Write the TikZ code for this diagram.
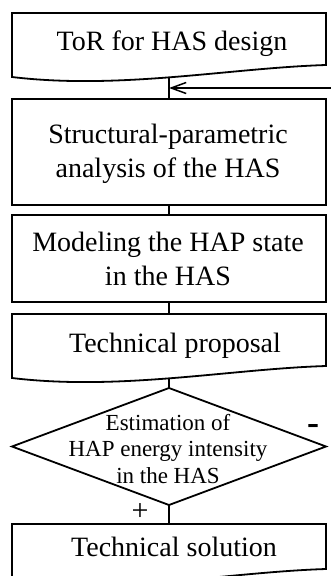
\documentclass[tikz,border=0pt]{standalone}
\usepackage{fontspec}
\setmainfont{Liberation Serif}
\usetikzlibrary{shapes.geometric,arrows.meta}
\begin{document}
\begin{tikzpicture}[x=1pt,y=-1pt,line width=1.8pt,
  txt/.style={font=\fontsize{28}{34}\selectfont,align=center,inner sep=0pt},
  dtxt/.style={font=\fontsize{23}{26.5}\selectfont,align=center,inner sep=0pt},
  procbox/.style={draw,minimum width=314pt,inner sep=0pt,outer sep=0pt},
  link/.style={draw},
  fbarrow/.style={draw,line width=1.5pt,-{Straight Barb[length=15pt,width=11pt,line width=1.5pt]}}
]
\useasboundingbox (0,0) rectangle (330,576);

% box 1: document shape
\draw (12,13) -- (326,13) -- (326,65) .. controls (230,68) and (120,90) .. (12,77) -- cycle;
\coordinate (b1s) at (169,77.5);
\node[txt,anchor=base] (t1) at (172,50) {ToR for HAS design};

% box 2
\node[procbox,minimum height=106pt] (b2) at (169,152) {};
\node[txt] (t2) at (168,153.4) {Structural-parametric\\analysis of the HAS};

% box 3
\node[procbox,minimum height=87pt] (b3) at (169,258.5) {};
\node[txt] (t3) at (168,259.2) {Modeling the HAP state\\in the HAS};

% box 4: document shape
\draw (12,314) -- (326,314) -- (326,366) .. controls (230,369) and (120,391) .. (12,378) -- cycle;
\coordinate (b4n) at (169,314);
\coordinate (b4s) at (169,378.5);
\node[txt,anchor=base] (t4) at (175,352) {Technical proposal};

% decision
\node[diamond,draw,minimum width=314pt,minimum height=117pt,inner sep=0pt,outer sep=0pt] (d) at (169,446.5) {};
\node[dtxt] (td) at (168,448.8) {Estimation of\\HAP energy intensity\\in the HAS};

% box 5: document shape (cut by the page edge)
\draw (12,524) -- (326,524) -- (326,569) .. controls (230,572) and (120,594) .. (12,581) -- cycle;
\coordinate (b5n) at (169,524);
\node[txt,anchor=base] (t5) at (174,556) {Technical solution};

% connectors
\path[link] (b1s) -- (b2.north);
\path[link] (b2.south) -- (b3.north);
\path[link] (b3.south) -- (b4n);
\path[link] (b4s) -- (d.north);
\path[link] (d.south) -- (b5n);

% feedback arrow
\coordinate (fb) at (332,88);
\path[fbarrow] (fb) -- (fb -| b1s);

% branch labels
\node[font=\fontsize{30}{32}\selectfont,inner sep=0pt] (plus) at (140,512) {+};
\node[font=\bfseries\fontsize{36}{38}\selectfont,inner sep=0pt] (minus) at (313,429) {-};
\end{tikzpicture}
\end{document}
